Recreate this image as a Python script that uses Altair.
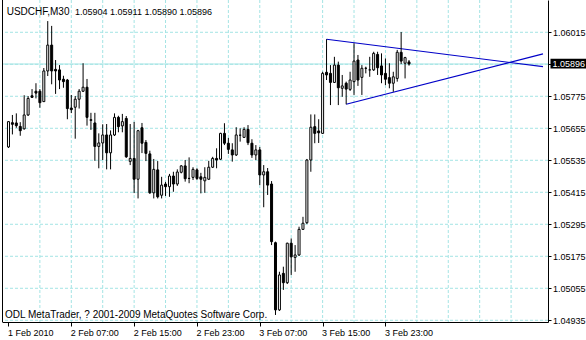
import altair as alt
import pandas as pd

# ---------------- data ----------------
bar_index = list(range(103))
open_ = [1.05585, 1.05676, 1.05675, 1.05662, 1.05653, 1.05705, 1.05777, 1.05794, 1.05794, 1.05755,
         1.05870, 1.05967, 1.05876, 1.05874, 1.05839, 1.05836, 1.05731, 1.05734, 1.05764, 1.05794,
         1.05809, 1.05687, 1.05675, 1.05587, 1.05600, 1.05630, 1.05563, 1.05630, 1.05696, 1.05664,
         1.05692, 1.05531, 1.05542, 1.05464, 1.05657, 1.05602, 1.05559, 1.05413, 1.05499, 1.05404,
         1.05446, 1.05436, 1.05476, 1.05446, 1.05490, 1.05514, 1.05467, 1.05471, 1.05499, 1.05473,
         1.05458, 1.05464, 1.05509, 1.05542, 1.05539, 1.05636, 1.05599, 1.05574, 1.05555, 1.05629,
         1.05621, 1.05651, 1.05599, 1.05555, 1.05574, 1.05480, 1.05492, 1.05446, 1.05226, 1.04974,
         1.05111, 1.05076, 1.05224, 1.05171, 1.05180, 1.05276, 1.05301, 1.05536, 1.05661, 1.05645,
         1.05636, 1.05865, 1.05861, 1.05827, 1.05892, 1.05805, 1.05824, 1.05801, 1.05830, 1.05911,
         1.05846, 1.05880, 1.05874, 1.05874, 1.05932, 1.05889, 1.05861, 1.05845, 1.05824, 1.05842,
         1.05940, 1.05899, 1.05904]
high = [1.05682, 1.05705, 1.05711, 1.05678, 1.05779, 1.05776, 1.05802, 1.05824, 1.05802, 1.05881,
        1.06057, 1.06039, 1.05911, 1.05892, 1.05852, 1.05840, 1.05780, 1.05776, 1.05802, 1.05899,
        1.05840, 1.05713, 1.05713, 1.05636, 1.05670, 1.05671, 1.05647, 1.05711, 1.05702, 1.05709,
        1.05701, 1.05671, 1.05679, 1.05649, 1.05675, 1.05611, 1.05571, 1.05540, 1.05532, 1.05473,
        1.05454, 1.05484, 1.05492, 1.05501, 1.05517, 1.05536, 1.05546, 1.05509, 1.05505, 1.05488,
        1.05509, 1.05533, 1.05548, 1.05580, 1.05638, 1.05674, 1.05619, 1.05599, 1.05659, 1.05655,
        1.05659, 1.05667, 1.05614, 1.05592, 1.05585, 1.05517, 1.05506, 1.05457, 1.05230, 1.05117,
        1.05136, 1.05226, 1.05242, 1.05217, 1.05286, 1.05323, 1.05540, 1.05707, 1.05707, 1.05689,
        1.05867, 1.05989, 1.05892, 1.05923, 1.05905, 1.05855, 1.05830, 1.05867, 1.05974, 1.05930,
        1.05892, 1.05886, 1.05923, 1.05942, 1.05942, 1.05936, 1.05917, 1.05899, 1.05867, 1.05949,
        1.06016, 1.05923, 1.05911]
low = [1.05581, 1.05632, 1.05657, 1.05627, 1.05650, 1.05701, 1.05769, 1.05767, 1.05732, 1.05754,
       1.05851, 1.05820, 1.05784, 1.05802, 1.05807, 1.05689, 1.05712, 1.05616, 1.05729, 1.05791,
       1.05665, 1.05649, 1.05533, 1.05505, 1.05536, 1.05501, 1.05501, 1.05626, 1.05640, 1.05640,
       1.05544, 1.05517, 1.05412, 1.05392, 1.05562, 1.05532, 1.05409, 1.05392, 1.05392, 1.05392,
       1.05401, 1.05398, 1.05417, 1.05439, 1.05486, 1.05455, 1.05449, 1.05461, 1.05461, 1.05411,
       1.05413, 1.05461, 1.05506, 1.05505, 1.05536, 1.05592, 1.05559, 1.05530, 1.05551, 1.05605,
       1.05619, 1.05592, 1.05544, 1.05536, 1.05442, 1.05359, 1.05405, 1.05217, 1.04955, 1.04970,
       1.05049, 1.05071, 1.05105, 1.05117, 1.05176, 1.05274, 1.05296, 1.05492, 1.05599, 1.05600,
       1.05634, 1.05836, 1.05742, 1.05825, 1.05742, 1.05773, 1.05745, 1.05795, 1.05780, 1.05814,
       1.05780, 1.05861, 1.05848, 1.05870, 1.05855, 1.05824, 1.05817, 1.05805, 1.05792, 1.05830,
       1.05896, 1.05842, 1.05890]
close = [1.05680, 1.05670, 1.05665, 1.05646, 1.05705, 1.05767, 1.05771, 1.05787, 1.05751, 1.05870,
         1.05967, 1.05870, 1.05870, 1.05836, 1.05830, 1.05729, 1.05725, 1.05764, 1.05794, 1.05809,
         1.05696, 1.05685, 1.05587, 1.05600, 1.05630, 1.05563, 1.05630, 1.05696, 1.05661, 1.05680,
         1.05548, 1.05542, 1.05464, 1.05646, 1.05599, 1.05561, 1.05413, 1.05501, 1.05398, 1.05442,
         1.05436, 1.05476, 1.05446, 1.05491, 1.05514, 1.05466, 1.05467, 1.05501, 1.05467, 1.05464,
         1.05471, 1.05509, 1.05542, 1.05536, 1.05636, 1.05599, 1.05576, 1.05555, 1.05630, 1.05629,
         1.05651, 1.05601, 1.05555, 1.05574, 1.05480, 1.05492, 1.05442, 1.05230, 1.04974, 1.05105,
         1.05076, 1.05224, 1.05173, 1.05180, 1.05276, 1.05299, 1.05536, 1.05659, 1.05636, 1.05638,
         1.05861, 1.05855, 1.05827, 1.05892, 1.05807, 1.05814, 1.05802, 1.05836, 1.05907, 1.05836,
         1.05880, 1.05880, 1.05874, 1.05936, 1.05882, 1.05855, 1.05839, 1.05824, 1.05848, 1.05940,
         1.05907, 1.05920, 1.05896]

x_tick_pos = [0, 16, 32, 48, 64, 80, 96]
x_tick_labels = ["1 Feb 2010", "2 Feb 07:00", "2 Feb 15:00", "2 Feb 23:00",
                 "3 Feb 07:00", "3 Feb 15:00", "3 Feb 23:00"]
x_grid = [8, 16, 24, 32, 40, 48, 56, 64, 72, 80, 88, 96, 104, 112, 120, 128]
y_ticks = [1.04935, 1.05055, 1.05175, 1.05295, 1.05415, 1.05535,
           1.05655, 1.05775, 1.05895, 1.06015]
hidden_tick = 1.05895
last_price = 1.05896

trend_id = ["upper", "upper", "lower", "lower"]
trend_k = [81, 136.125, 86, 136.125]
trend_p = [1.05989, 1.05886, 1.05745, 1.05934]

symbol_text = "USDCHF,M30"
ohlc_text = "1.05904 1.05911 1.05890 1.05896"
copyright_text = "ODL MetaTrader, ? 2001-2009 MetaQuotes Software Corp."

# ---------------- chart ----------------
W, H = 546, 322
FONT = "Liberation Sans"
NUM_SIZE = 9
GRID = "#a4e4e4"

xs = alt.Scale(domain=[-0.375, 136.125], nice=False, zero=False)
ys = alt.Scale(domain=[1.049286, 1.061361], nice=False, zero=False)

label_expr = "".join(
    f"datum.value == {p} ? '{t}' : " for p, t in zip(x_tick_pos, x_tick_labels)
) + "''"

x_axis = alt.Axis(
    orient="bottom", values=x_tick_pos, labelExpr=label_expr, labelAlign="left",
    labelOffset=-1, labelFlush=False, labelOverlap=False, tickSize=4, tickColor="black",
    domainColor="black", labelColor="black", labelFont=FONT, labelFontSize=NUM_SIZE,
    labelPadding=2, grid=False, title=None,
)
y_axis = alt.Axis(
    orient="right", values=y_ticks,
    labelExpr=f"abs(datum.value - {hidden_tick}) < 0.000001 ? '' : format(datum.value, '.5f')",
    tickSize=3, tickColor="black", domainColor="black", labelColor="black",
    labelFont=FONT, labelFontSize=NUM_SIZE, labelPadding=1.5, grid=False, title=None,
    labelFlush=False, labelOverlap=False,
)


def X(field):
    return alt.X(field, scale=xs, axis=x_axis)


def Y(field):
    return alt.Y(field, scale=ys, axis=y_axis)


df = pd.DataFrame({"k": bar_index, "o": open_, "h": high, "l": low, "c": close})

hgrid = alt.Chart(pd.DataFrame({"v": y_ticks})).mark_rule(
    color=GRID, strokeDash=[3, 2], strokeWidth=1
).encode(y=Y("v:Q"))

vgrid = alt.Chart(pd.DataFrame({"k": x_grid})).mark_rule(
    color=GRID, strokeDash=[3, 2], strokeWidth=1
).encode(x=X("k:Q"))

price_line = alt.Chart(pd.DataFrame({"v": [last_price]})).mark_rule(
    color=GRID, strokeWidth=1
).encode(y=Y("v:Q"))

trend = alt.Chart(pd.DataFrame({"g": trend_id, "k": trend_k, "p": trend_p})).mark_line(
    color="#0000c8", strokeWidth=1.2, clip=True
).encode(x=X("k:Q"), y=Y("p:Q"), detail="g:N")

wicks = alt.Chart(df).mark_rule(color="black", strokeWidth=1).encode(
    x=X("k:Q"), y=Y("l:Q"), y2="h:Q"
)

bodies = alt.Chart(df).mark_bar(size=2, stroke="black", strokeWidth=1).encode(
    x=X("k:Q"), y=Y("o:Q"), y2="c:Q",
    fill=alt.condition("datum.c >= datum.o", alt.value("white"), alt.value("black")),
)

border = alt.Chart(pd.DataFrame({"a": [0]})).mark_rule(color="black", strokeWidth=1).encode(
    x=alt.value(0.5), y=alt.value(0), y2=alt.value(H)
)

box = alt.Chart(pd.DataFrame({"a": [0]})).mark_rect(color="black").encode(
    x=alt.value(W + 2.5), x2=alt.value(W + 38), y=alt.value(58.7), y2=alt.value(68.5)
)
box_text = alt.Chart(pd.DataFrame({"v": [last_price], "s": [f"{last_price:.5f}"]})).mark_text(
    align="left", baseline="middle", color="white", font=FONT, fontSize=NUM_SIZE
).encode(x=alt.value(W + 4.5), y=Y("v:Q"), text="s:N")

symbol = alt.Chart(pd.DataFrame({"t": [symbol_text]})).mark_text(
    align="left", baseline="alphabetic", font=FONT, fontSize=10, color="black"
).encode(x=alt.value(4.7), y=alt.value(15), text="t:N")
ohlc = alt.Chart(pd.DataFrame({"t": [ohlc_text]})).mark_text(
    align="left", baseline="alphabetic", font=FONT, fontSize=NUM_SIZE, color="black"
).encode(x=alt.value(73), y=alt.value(15), text="t:N")
copyright_mark = alt.Chart(pd.DataFrame({"t": [copyright_text]})).mark_text(
    align="left", baseline="alphabetic", font=FONT, fontSize=10, color="black"
).encode(x=alt.value(3), y=alt.value(317.5), text="t:N")

chart = alt.layer(
    hgrid, vgrid, price_line, trend, wicks, bodies, border, box, box_text,
    symbol, ohlc, copyright_mark,
).properties(
    width=W, height=H,
    padding={"left": 2, "top": 0, "right": 38, "bottom": 18},
    autosize=alt.AutoSizeParams(type="none"),
    background="white",
).configure_view(stroke=None)

chart.save("out.html", embed_options={"renderer": "svg", "actions": False})
